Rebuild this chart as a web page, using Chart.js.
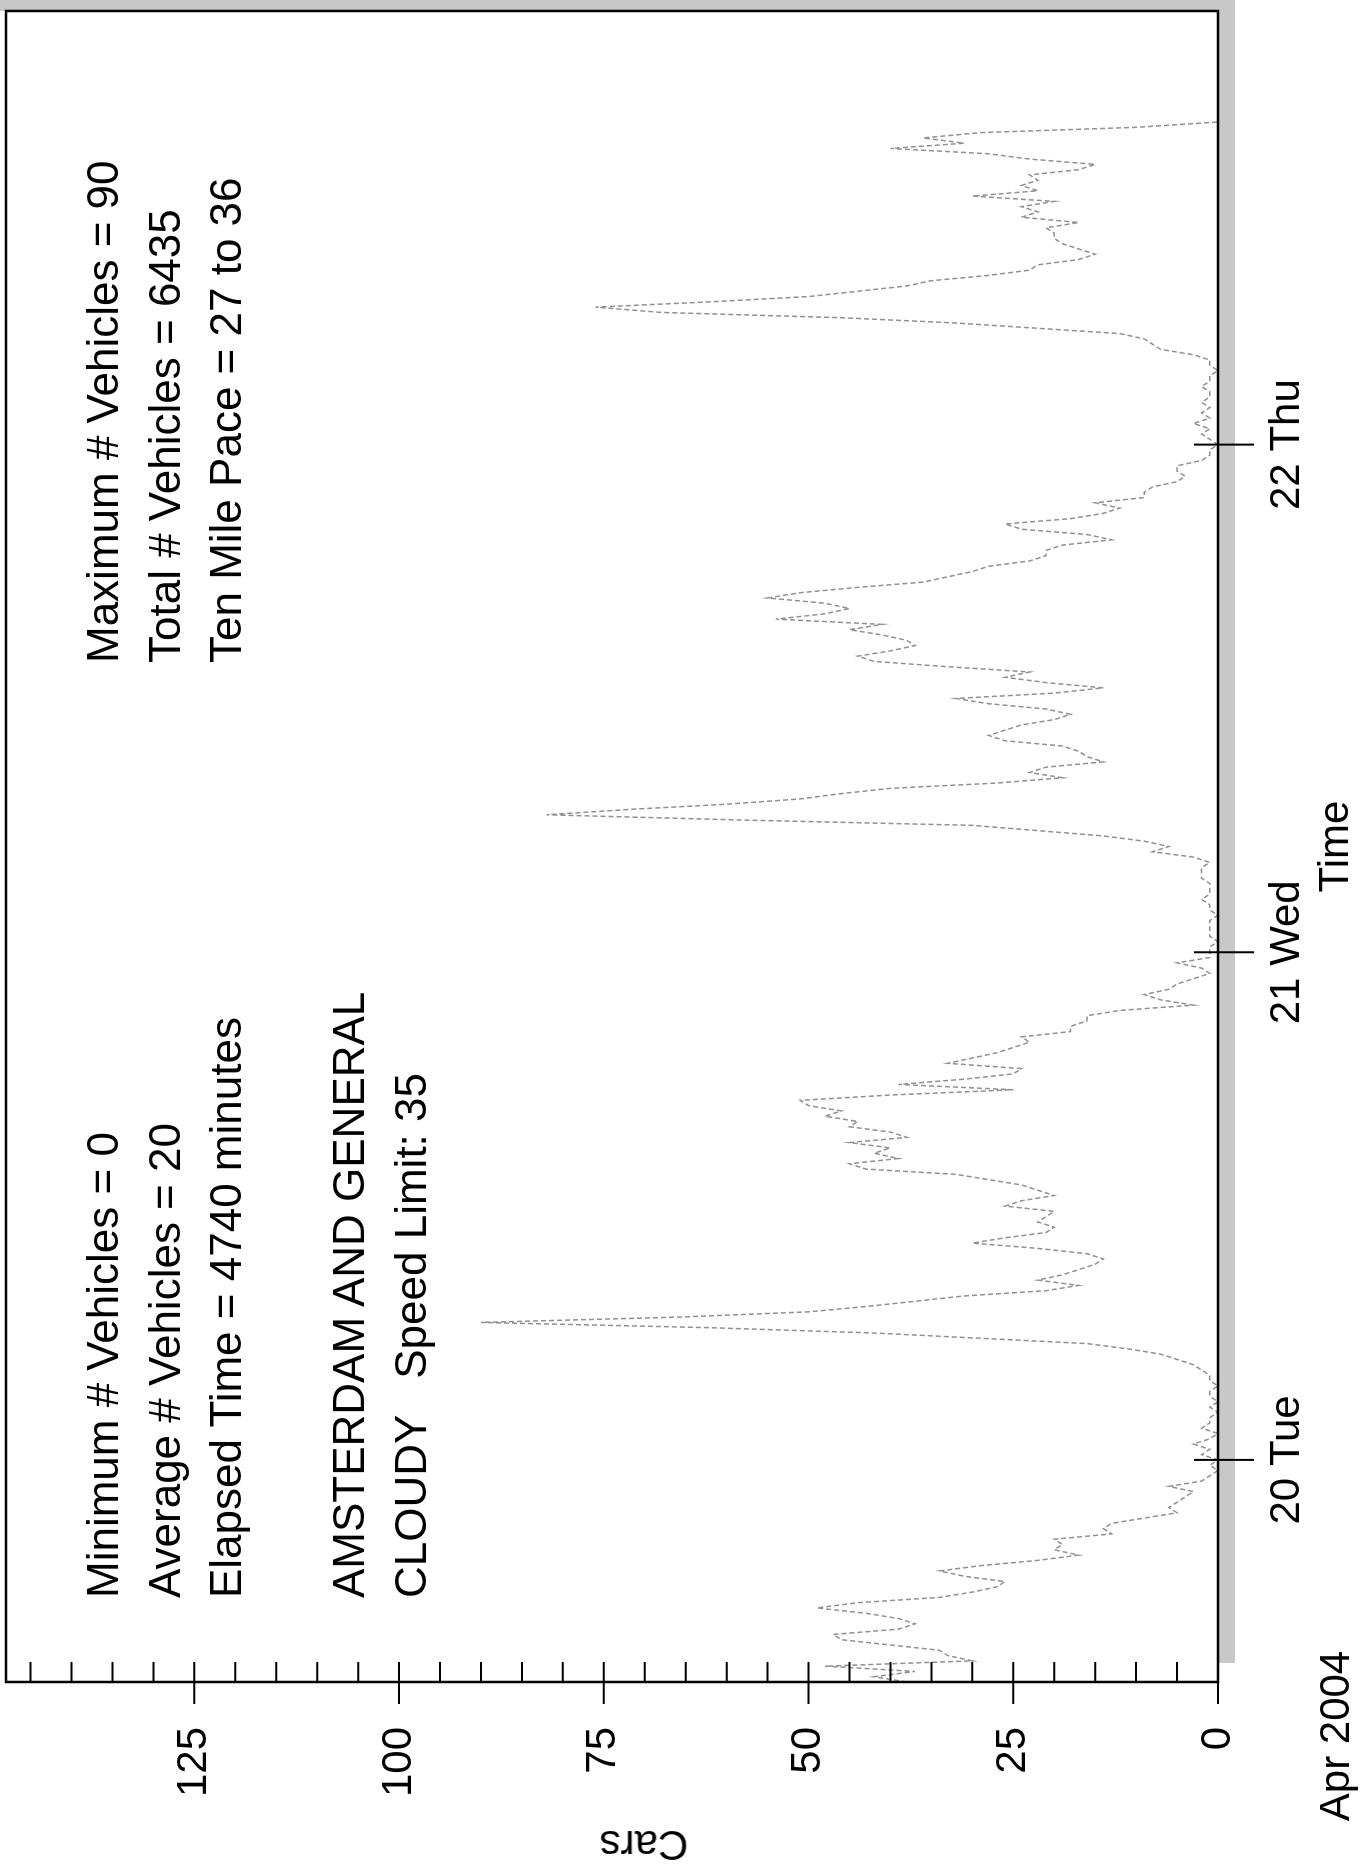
<!DOCTYPE html>
<html>
<head>
<meta charset="utf-8">
<title>Amsterdam and General - Cars</title>
<script src="https://cdn.jsdelivr.net/npm/chart.js@4.4.1/dist/chart.umd.min.js"></script>
<style>
  html, body { margin: 0; padding: 0; background: #fff; }
  body { width: 1368px; height: 1864px; overflow: hidden; position: relative;
         font-family: "Liberation Sans", Arial, Helvetica, sans-serif; color: #000; }
  /* the printed page is turned a quarter turn, so the whole chart is drawn flat and rotated */
  #sheet { position: absolute; left: 0; top: 1864px; width: 1864px; height: 1368px;
           transform-origin: 0 0; transform: rotate(-90deg); }
  #sheet canvas { position: absolute; left: 0; top: 0; }
  .note { position: absolute; font-size: 44px; line-height: 61.5px; white-space: pre; }
  .label { position: absolute; font-size: 42px; line-height: 1; white-space: nowrap; }
</style>
</head>
<body>
<div id="sheet">
  <canvas id="traffic" width="1864" height="1368"></canvas>
  <div class="note" style="left:266px; top:72px">Minimum # Vehicles = 0
Average # Vehicles = 20
Elapsed Time = 4740 minutes

AMSTERDAM AND GENERAL
CLOUDY   Speed Limit: 35</div>
  <div class="note" style="left:1201px; top:72px">Maximum # Vehicles = 90
Total # Vehicles = 6435
Ten Mile Pace = 27 to 36</div>
  <div class="label" style="left:128px; top:1314px; transform: translateX(-50%)">Apr 2004</div>
  <div class="label" style="left:19px; top:644px; transform: translate(-50%,-50%) rotate(-90deg)">Cars</div>
</div>
<script>
// cars counted every 15 minutes
// Apr 19, 13:30 - 23:45
const apr19 = [38, 42,
  37, 48, 30, 33,  34, 40, 46, 47,  39, 37, 39, 43,  49, 44, 34, 30,
  27, 26, 31, 34,  29, 22, 17, 20,  19, 20, 13, 14,  13, 9, 5, 6,
  5, 4, 3, 6,  2, 1, 0, 1];
// Apr 20, 00:00 - 23:45
const apr20 = [0, 2, 1, 3,  1, 0, 2, 1,  1, 0, 1, 0,  1, 1, 0, 1,
  1, 2, 3, 5,  7, 11, 16, 29,  42, 62, 90, 66,  50, 43, 37, 31,
  21, 17, 22, 19,  17, 15, 14, 16,  22, 30, 26, 21,  20, 22, 21, 20,
  26, 24, 20, 22,  24, 28, 32, 43,  45, 39, 42, 40,  45, 38, 40, 45,
  44, 48, 46, 50,  51, 40, 25, 39,  31, 25, 24, 33,  30, 27, 25, 23,
  24, 18, 18, 16,  16, 12, 3, 7,  9, 6, 5, 3,  1, 2, 5, 1];
// Apr 21, 00:00 - 23:45
const apr21 = [1, 1, 0, 1,  1, 1, 1, 0,  1, 1, 2, 1,  1, 1, 2, 2,
  2, 1, 3, 8,  6, 9, 14, 22,  30, 58, 82, 72,  60, 51, 46, 40,
  27, 19, 23, 21,  14, 16, 17, 19,  26, 28, 26, 24,  20, 18, 21, 28,
  32, 20, 14, 21,  26, 23, 33, 42,  44, 40, 37, 38,  41, 45, 41, 54,
  48, 45, 48, 55,  51, 44, 36, 33,  30, 28, 23, 21,  21, 19, 13, 16,
  24, 26, 18, 14,  12, 15, 9, 9,  8, 5, 4, 5,  5, 2, 1, 1];
// Apr 22, 00:00 - 20:30
const apr22 = [0, 1, 2, 1,  3, 1, 2, 1,  2, 1, 1, 2,  1, 1, 0, 1,
  1, 3, 7, 8,  9, 12, 22, 32,  46, 68, 76, 62,  50, 44, 38, 35,
  28, 23, 22, 17,  15, 17, 19, 20,  20, 21, 17, 24,  22, 24, 20, 30,
  22, 24, 22, 23,  17, 15, 23, 28,  40, 31, 36, 29,  10, 0, 0, 0,
  0, 0, 0, 0,  0, 0, 0, 0,  0, 0, 0, 0,  0, 0, 0, 0,  0, 0, 0];

const startHour = 13.5;   // hours after Apr 19 00:00
const stepHours = 0.25;
const dayTicks = [24, 48, 72];
const dayLabels = ['20 Tue', '21 Wed', '22 Thu'];
const carTicks = [0, 25, 50, 75, 100, 125];

const cars = apr19.concat(apr20, apr21, apr22);
const points = cars.map((c, i) => ({ x: startHour + i * stepHours, y: c }));
const endHour = startHour + (cars.length - 1) * stepHours;

Chart.defaults.font.family = '"Liberation Sans", Arial, Helvetica, sans-serif';
Chart.defaults.color = '#000';

// grey strips left by the scanner along the bottom and right of the frame
const shading = {
  id: 'shading',
  beforeDraw(chart) {
    const { ctx, chartArea: a, width } = chart;
    ctx.save();
    ctx.fillStyle = '#c8c8c8';
    ctx.fillRect(a.left + 19, a.bottom, width - a.left - 19, 17);
    ctx.fillRect(a.right, 0, width - a.right, a.bottom + 17);
    ctx.restore();
  }
};

// box, axis lines and the tick marks that cross them
const frame = {
  id: 'frame',
  afterDatasetsDraw(chart) {
    const { ctx, chartArea: a, scales: { x, y } } = chart;
    ctx.save();
    ctx.strokeStyle = '#000';
    ctx.lineWidth = 2.5;
    ctx.strokeRect(a.left, a.top, a.right - a.left, a.bottom - a.top);
    ctx.lineWidth = 2;
    ctx.beginPath();
    for (let c = 0; c < y.max; c += 5) {
      const py = y.getPixelForValue(c);
      ctx.moveTo(c % 25 === 0 ? a.left - 22 : a.left, py);
      ctx.lineTo(a.left + 20, py);
    }
    dayTicks.forEach(t => {
      const px = x.getPixelForValue(t);
      ctx.moveTo(px, a.bottom - 24);
      ctx.lineTo(px, a.bottom + 36);
    });
    ctx.stroke();
    ctx.restore();
  }
};

new Chart(document.getElementById('traffic'), {
  type: 'line',
  data: {
    datasets: [{
      data: points,
      borderColor: '#909090',
      borderWidth: 1.5,
      borderDash: [5, 3],
      pointRadius: 0,
      tension: 0,
      fill: false
    }]
  },
  options: {
    responsive: false,
    animation: false,
    events: [],
    layout: { padding: { top: 6, right: 11, bottom: 0, left: 0 } },
    plugins: { legend: { display: false }, tooltip: { enabled: false } },
    scales: {
      x: {
        type: 'linear',
        min: startHour,
        max: endHour,
        afterBuildTicks: s => { s.ticks = dayTicks.map(v => ({ value: v })); },
        afterFit: s => { s.height = 150; s.paddingLeft = 0; s.paddingRight = 0; },
        grid: { display: false, drawTicks: false },
        border: { display: false },
        ticks: {
          callback: (v, i) => dayLabels[i],
          padding: 48,
          maxRotation: 0,
          autoSkip: false,
          font: { size: 42, lineHeight: 1 }
        },
        title: {
          display: true,
          text: 'Time',
          font: { size: 42, lineHeight: 1 },
          padding: { top: 0, bottom: 11 }
        }
      },
      y: {
        min: 0,
        max: 148,
        afterBuildTicks: s => { s.ticks = carTicks.map(v => ({ value: v })); },
        afterFit: s => { s.width = 182; s.paddingTop = 0; s.paddingBottom = 0; },
        grid: { display: false, drawTicks: false },
        border: { display: false },
        ticks: { padding: 45, font: { size: 42, lineHeight: 1 } }
      }
    }
  },
  plugins: [shading, frame]
});
</script>
</body>
</html>
